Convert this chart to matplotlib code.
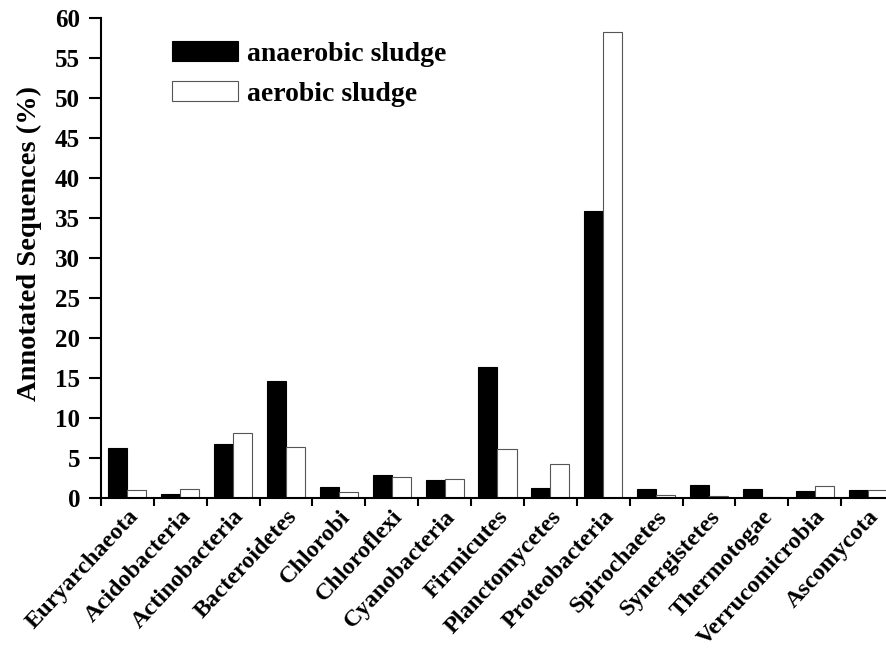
import numpy as np
import matplotlib.pyplot as plt
from matplotlib.ticker import MultipleLocator

phyla = ['Euryarchaeota', 'Acidobacteria', 'Actinobacteria', 'Bacteroidetes',
         'Chlorobi', 'Chloroflexi', 'Cyanobacteria', 'Firmicutes',
         'Planctomycetes', 'Proteobacteria', 'Spirochaetes', 'Synergistetes',
         'Thermotogae', 'Verrucomicrobia', 'Ascomycota']
anaerobic = [6.25, 0.42, 6.67, 14.6, 1.3, 2.88, 2.17, 16.3,
             1.17, 35.9, 1.05, 1.55, 1.05, 0.8, 0.96]
aerobic = [0.96, 1.05, 8.05, 6.3, 0.71, 2.63, 2.33, 6.05,
           4.25, 58.3, 0.3, 0.17, 0.13, 1.42, 0.92]

plt.rcParams['font.family'] = ['Liberation Serif', 'DejaVu Serif']
plt.rcParams['font.weight'] = 'bold'

fig = plt.figure(figsize=(8.86, 6.55), dpi=100)
ax = fig.add_axes([0.114, 0.2401, 0.895, 0.7324])

x = np.arange(len(phyla))
w = 0.36
ax.bar(x - w / 2, anaerobic, w, color='black', edgecolor='black', linewidth=0.8,
       label='anaerobic sludge')
ax.bar(x + w / 2, aerobic, w, color='white', edgecolor='#555555', linewidth=0.8,
       label='aerobic sludge')

ax.set_xlim(-0.5, len(phyla) - 0.5)
ax.set_ylim(0, 60)
ax.yaxis.set_major_locator(MultipleLocator(5))

ax.set_xticks(x)
ax.set_xticklabels(phyla, rotation=47, ha='right', rotation_mode='anchor',
                   fontsize=17.5, fontweight='bold')
ax.set_xticks(np.arange(-0.5, len(phyla), 1), minor=True)
ax.tick_params(axis='x', which='major', length=0, pad=6)
ax.tick_params(axis='x', which='minor', length=6, width=1.5, direction='out')
ax.tick_params(axis='y', length=9, width=1.5, direction='out', labelsize=18, pad=6)
for t in ax.get_yticklabels():
    t.set_fontweight('bold')

for s in ['top', 'right']:
    ax.spines[s].set_visible(False)
for s in ['left', 'bottom']:
    ax.spines[s].set_linewidth(1.5)

ax.set_ylabel('Annotated Sequences (%)', fontsize=20.5, fontweight='bold')
ax.yaxis.set_label_coords(-0.075, 0.53)

ax.legend(loc='upper left', bbox_to_anchor=(0.075, 0.975), frameon=False,
          prop={'size': 20, 'weight': 'bold'}, handlelength=2.4, handleheight=0.75,
          handletextpad=0.3, labelspacing=0.5, borderaxespad=0)

fig.savefig('out.png', dpi=100)
